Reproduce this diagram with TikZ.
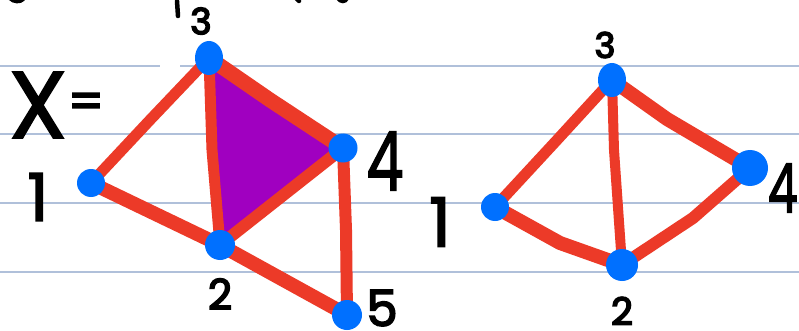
\documentclass[tikz,border=0pt]{standalone}
\usepackage{fontspec}
\setmainfont{Poppins}
\newcommand\lblsize[1]{\fontsize{#1}{#1}\selectfont}
\newcommand\handink[1]{\special{pdf:literal direct 2 Tr 1.6 w}#1\special{pdf:literal direct 0 Tr}}
\definecolor{ruled}{RGB}{176,192,218}
\definecolor{edgered}{RGB}{236,58,40}
\definecolor{dotblue}{RGB}{0,112,255}
\definecolor{facepurple}{RGB}{160,0,192}
\tikzset{
  ruleline/.style={ruled, line width=1.5pt},
  edge/.style={edgered, line width=#1, line cap=round, line join=round},
  edge/.default=12pt,
  vtx/.style={ellipse, fill=dotblue, inner sep=0, minimum width=#1, minimum height=#1},
  vtx/.default=28pt,
  lbl/.style={inner sep=0, text=black},
  ink/.style={black, line width=4.5pt, line cap=round}
}
\usetikzlibrary{shapes.geometric}
\begin{document}
\begin{tikzpicture}[x=1pt,y=-1pt]
\useasboundingbox (0,0) rectangle (799,331);
\fill[white] (0,0) rectangle (799,331);
\clip (0,0) rectangle (799,331);
% ruled paper
\draw[ruleline] (0,66) -- (160,66);
\draw[ruleline] (180,66) -- (799,66);
\draw[ruleline] (0,134) -- (799,134);
\draw[ruleline] (0,203) -- (799,203);
\draw[ruleline] (0,272) -- (799,272);
% fragments of text from above
\draw[ink] (177,1) -- (178,16);
\draw[ink] (10,-2) .. controls (14,2) and (20,2) .. (23,-1);
\draw[ink] (296,-2) -- (299,1);
\draw[ink] (338,-2) .. controls (341,2) and (345,2) .. (347,-2);
% ---------- left complex X ----------
\coordinate (L1) at (91,183);
\coordinate (L3) at (209,58);
\coordinate (L4) at (343,148);
\coordinate (L2) at (220,245);
\coordinate (L5) at (347,315);
\fill[facepurple, rounded corners=6pt] (212,62) -- (340,148) -- (220,240) -- cycle;
\draw[edge=11pt] (L1) -- (150,120) -- (L3);
\draw[edge=14pt] (L1) -- (L2);
\draw[edge=11pt] (L3) -- (212,150) -- (L2);
\draw[edge=15pt] (L3) -- (270,100) -- (L4);
\draw[edge=12pt] (L4) -- (L2);
\draw[edge=14pt] (L2) -- (L5);
\draw[edge=12pt] (L4) -- (346,230) -- (L5);
\node[vtx=28pt] (v1) at (L1) {};
\node[vtx, minimum height=34pt] (v3) at (L3) {};
\node[vtx=29pt] (v4) at (L4) {};
\node[vtx=30pt] (v2) at (L2) {};
\node[vtx=30pt] (v5) at (L5) {};
\node[lbl, font=\lblsize{66}] (t1) at (38,197) {\handink{1}};
\node[lbl, font=\lblsize{36}] (t3) at (201,21) {\handink{3}};
\node[lbl, font=\lblsize{82}] (t4) at (385,161) {\scalebox{0.72}[1]{\handink{4}}};
\node[lbl, font=\lblsize{42}] (t2) at (220,294) {\handink{2}};
\node[lbl, font=\lblsize{50}] (t5) at (382,308) {\handink{5}};
\node[lbl, font=\lblsize{95}] (tX) at (38,105) {\handink{X}};
\node[lbl, font=\lblsize{50}] (teq) at (86,106) {\handink{=}};
% ---------- right graph ----------
\coordinate (R1) at (495,207);
\coordinate (R3) at (612,80);
\coordinate (R4) at (750,168);
\coordinate (R2) at (622,265);
\draw[edge=11pt] (R1) -- (557,140) -- (R3);
\draw[edge=14pt] (R1) -- (560,243) -- (R2);
\draw[edge=10pt] (R3) -- (614,150) -- (R2);
\draw[edge=14pt] (R3) -- (667,119) -- (R4);
\draw[edge=12pt] (R4) -- (693,218) -- (R2);
\node[vtx=28pt] (w1) at (R1) {};
\node[vtx, minimum height=34pt] (w3) at (R3) {};
\node[vtx=36pt] (w4) at (R4) {};
\node[vtx=32pt] (w2) at (R2) {};
\node[lbl, font=\lblsize{68}] (s1) at (440,222) {\handink{1}};
\node[lbl, font=\lblsize{35}] (s3) at (605,45) {\handink{3}};
\node[lbl, font=\lblsize{68}, anchor=east] (s4) at (798,188) {\scalebox{0.7}[1]{\handink{4}}};
\node[lbl, font=\lblsize{38}] (s2) at (622,311) {\handink{2}};
\end{tikzpicture}
\end{document}
